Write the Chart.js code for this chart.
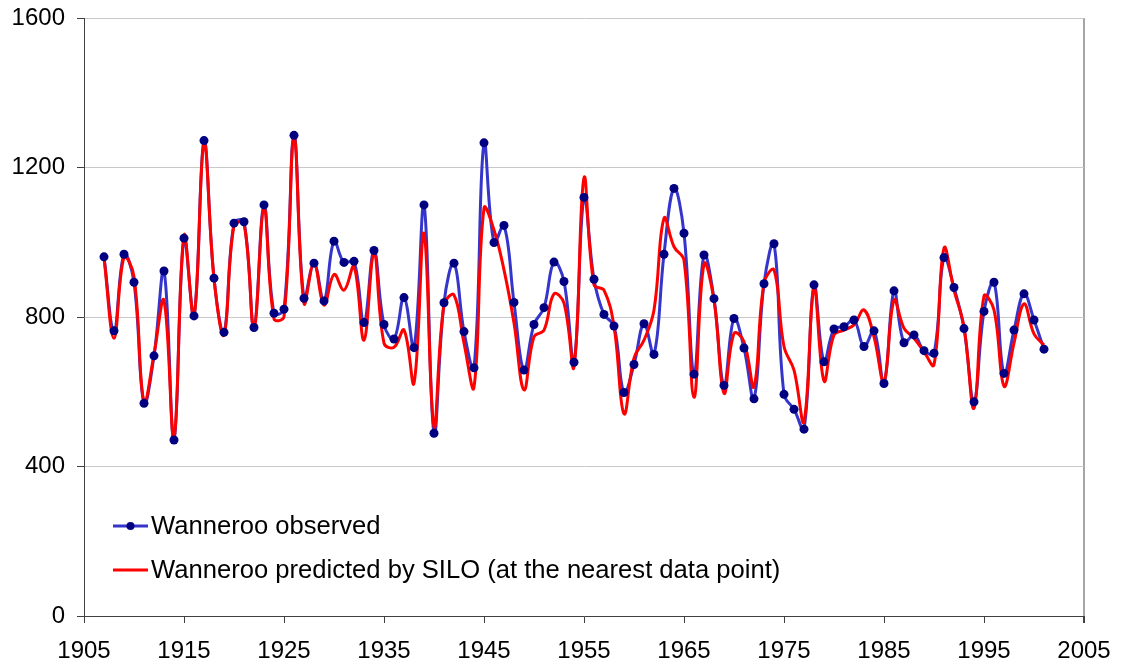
<!DOCTYPE html>
<html>
<head>
<meta charset="utf-8">
<script src="https://cdn.jsdelivr.net/npm/chart.js@4/dist/chart.umd.min.js"></script>
<style>
  html, body { margin: 0; padding: 0; background: #ffffff; }
  #wrap { position: relative; width: 1121px; height: 671px; }
</style>
</head>
<body>
<div id="wrap"><canvas id="c" width="1121" height="671"></canvas></div>
<script>
// Annual rainfall (mm) at Wanneroo, 1907-2001
const years = [
  1907, 1908, 1909, 1910, 1911, 1912, 1913, 1914, 1915, 1916,
  1917, 1918, 1919, 1920, 1921, 1922, 1923, 1924, 1925, 1926,
  1927, 1928, 1929, 1930, 1931, 1932, 1933, 1934, 1935, 1936,
  1937, 1938, 1939, 1940, 1941, 1942, 1943, 1944, 1945, 1946,
  1947, 1948, 1949, 1950, 1951, 1952, 1953, 1954, 1955, 1956,
  1957, 1958, 1959, 1960, 1961, 1962, 1963, 1964, 1965, 1966,
  1967, 1968, 1969, 1970, 1971, 1972, 1973, 1974, 1975, 1976,
  1977, 1978, 1979, 1980, 1981, 1982, 1983, 1984, 1985, 1986,
  1987, 1988, 1989, 1990, 1991, 1992, 1993, 1994, 1995, 1996,
  1997, 1998, 1999, 2000, 2001
];

const observed = [
   961,  763,  968,  893,  569,  696,  923,  471, 1011,  803,
  1272,  904,  759, 1051, 1055,  772, 1100,  810,  821, 1286,
   850,  944,  843, 1003,  946,  949,  785,  978,  780,  741,
   852,  718, 1100,  489,  838,  944,  761,  664, 1266,  999,
  1045,  839,  658,  780,  825,  947,  895,  679, 1120,  901,
   807,  776,  598,  673,  782,  700,  968, 1144, 1024,  647,
   966,  849,  617,  796,  717,  581,  889,  996,  593,  553,
   500,  886,  680,  768,  774,  792,  721,  763,  622,  870,
   731,  752,  710,  703,  959,  879,  769,  573,  815,  893,
   649,  765,  862,  792,  714
];

const predicted = [
   958,  743,  960,  908,  572,  700,  844,  476, 1019,  800,
  1265,  904,  752, 1045, 1050,  770, 1091,  795,  801, 1280,
   837,  944,  832,  914,  872,  935,  738,  970,  730,  719,
   765,  623, 1024,  507,  832,  859,  730,  612, 1091, 1033,
   926,  784,  605,  747,  765,  862,  837,  667, 1172,  886,
   872,  775,  541,  690,  738,  819, 1064,  988,  952,  585,
   942,  845,  596,  756,  734,  614,  890,  926,  721,  658,
   520,  877,  629,  752,  765,  779,  819,  747,  627,  845,
   770,  743,  707,  672,  984,  872,  774,  556,  856,  819,
   615,  730,  835,  755,  725
];

const yTicks = [0, 400, 800, 1200, 1600];
const xTicks = [1905, 1915, 1925, 1935, 1945, 1955, 1965, 1975, 1985, 1995, 2005];

const observedLabel = 'Wanneroo observed';
const predictedLabel = 'Wanneroo predicted by SILO (at the nearest data point)';

const FONT = "'Liberation Sans', Arial, sans-serif";
const BLUE = '#3535cc';
const NAVY = '#000080';
const RED = '#ff0000';

const toPoints = (vals) => years.map((yr, i) => ({ x: yr, y: vals[i] }));

// Legend drawn inside the plot area, lower left
const insideLegend = {
  id: 'insideLegend',
  afterDraw(chart) {
    const ctx = chart.ctx;
    ctx.save();
    ctx.font = '25.6px ' + FONT;
    ctx.textBaseline = 'middle';
    ctx.fillStyle = '#000000';
    const rows = [
      { y: 526, color: BLUE, marker: true, text: observedLabel },
      { y: 570, color: RED, marker: false, text: predictedLabel }
    ];
    rows.forEach(r => {
      ctx.strokeStyle = r.color;
      ctx.lineWidth = 3;
      ctx.beginPath();
      ctx.moveTo(113, r.y);
      ctx.lineTo(148, r.y);
      ctx.stroke();
      if (r.marker) {
        ctx.fillStyle = NAVY;
        ctx.beginPath();
        ctx.arc(130.5, r.y, 4, 0, Math.PI * 2);
        ctx.fill();
      }
      ctx.fillStyle = '#000000';
      ctx.fillText(r.text, 151, r.y + 1);
    });
    ctx.restore();
  }
};

new Chart(document.getElementById('c'), {
  type: 'line',
  data: {
    datasets: [
      {
        label: observedLabel,
        data: toPoints(observed),
        borderColor: BLUE,
        borderWidth: 3,
        pointRadius: 0,
        tension: 0.4,
        order: 3
      },
      {
        label: predictedLabel,
        data: toPoints(predicted),
        borderColor: RED,
        borderWidth: 3,
        pointRadius: 0,
        tension: 0.4,
        order: 2
      },
      {
        label: observedLabel + ' markers',
        data: toPoints(observed),
        showLine: false,
        pointRadius: 4.5,
        pointBackgroundColor: NAVY,
        pointBorderColor: NAVY,
        pointBorderWidth: 0,
        order: 1
      }
    ]
  },
  options: {
    responsive: false,
    animation: false,
    devicePixelRatio: 1,
    layout: { padding: { top: 18, right: 37, left: 0, bottom: 0 } },
    plugins: {
      legend: { display: false },
      tooltip: { enabled: false }
    },
    scales: {
      x: {
        type: 'linear',
        min: 1905,
        max: 2005,
        afterFit(scale) {
          scale.height = 55;
          scale.paddingLeft = 0;
          scale.paddingRight = 0;
        },
        afterBuildTicks(scale) { scale.ticks = xTicks.map(v => ({ value: v })); },
        ticks: {
          autoSkip: false,
          maxRotation: 0,
          padding: 14,
          color: '#000000',
          font: { family: FONT, size: 24 },
          callback: (v) => String(v)
        },
        grid: {
          color: (c) => (c.tick && c.tick.value === 2005 ? '#a6a6a6' : 'rgba(0,0,0,0)'),
          lineWidth: (c) => (c.tick && c.tick.value === 2005 ? 2 : 1),
          tickColor: '#404040',
          tickLength: 7,
          drawTicks: true
        },
        border: { color: '#404040', width: 1 }
      },
      y: {
        type: 'linear',
        min: 0,
        max: 1600,
        afterFit(scale) {
          scale.width = 84;
          scale.paddingTop = 0;
          scale.paddingBottom = 0;
        },
        afterBuildTicks(scale) { scale.ticks = yTicks.map(v => ({ value: v })); },
        ticks: {
          padding: 12,
          color: '#000000',
          font: { family: FONT, size: 24 },
          callback: (v) => String(v)
        },
        grid: {
          color: '#c8c8c8',
          lineWidth: 1,
          tickColor: '#404040',
          tickLength: 7
        },
        border: { color: '#404040', width: 1 }
      }
    }
  },
  plugins: [insideLegend]
});
</script>
</body>
</html>
